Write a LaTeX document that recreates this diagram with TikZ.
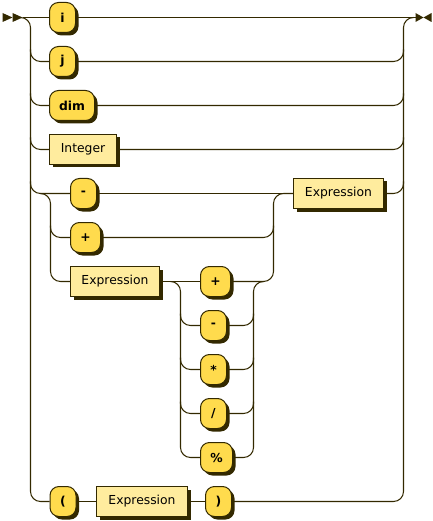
\documentclass[tikz,border=0pt]{standalone}
\usepackage{fontspec}
\setmainfont{DejaVu Sans}
\usetikzlibrary{shadows}
\definecolor{ln}{HTML}{332900}
\definecolor{tfill}{HTML}{FFDB4D}
\definecolor{nfill}{HTML}{FFEC9E}
\tikzset{
  base/.style={draw=ln, line width=1bp, inner sep=0pt, minimum height=30bp,
    font=\fontsize{12.4}{13}\selectfont, text=black,
    drop shadow={shadow xshift=3bp, shadow yshift=-3bp, fill=ln, opacity=1}},
  term/.style={base, fill=tfill, rounded corners=9bp, font=\fontsize{12.4}{13}\selectfont\bfseries},
  nterm/.style={base, fill=nfill},
  wire/.style={draw=ln, line width=1.05bp, rounded corners=10bp},
  endmark/.style={fill=ln, draw=none}
}
\begin{document}
\begin{tikzpicture}[x=1bp, y=-1bp]
\useasboundingbox[fill=white] (-0.5,-0.5) rectangle (432.5,520.5);
% nodes
\node[term, minimum width=26bp] (ti) at (62,17) {i};
\node[term, minimum width=26bp] (tj) at (62,61) {j};
\node[term, minimum width=45bp] (tdim) at (71.5,105) {dim};
\node[nterm, minimum width=67bp] (nint) at (82.5,149) {Integer};
\node[term, minimum width=26bp] (tm1) at (83,193) {-};
\node[term, minimum width=30bp] (tp1) at (85,237) {+};
\node[nterm, minimum width=89bp] (nexA) at (114.5,281) {Expression};
\node[nterm, minimum width=90bp] (nexB) at (338,193) {Expression};
\node[term, minimum width=30bp] (op1) at (215,281) {+};
\node[term, minimum width=26bp] (op2) at (213,325) {-};
\node[term, minimum width=26bp] (op3) at (213,369) {*};
\node[term, minimum width=26bp] (op4) at (213,413) {/};
\node[term, minimum width=32bp] (op5) at (216,457) {\%};
\node[term, minimum width=26bp] (lp) at (62.5,501) {(};
\node[nterm, minimum width=91bp] (nexC) at (141.5,501) {Expression};
\node[term, minimum width=26bp] (rp) at (218,501) {)};
% start / end markers
\coordinate (st) at (22,17);
\coordinate (en) at (415,17);
\coordinate (jB) at (283,193);
\fill[endmark] (2,12.5) -- (12,17) -- (2,21.5) -- cycle;
\fill[endmark] (12,12.5) -- (22,17) -- (12,21.5) -- cycle;
\fill[endmark] (415,12.5) -- (423,17) -- (415,21.5) -- cycle;
\fill[endmark] (431,12.5) -- (423,17) -- (431,21.5) -- cycle;
% main line
\draw[wire] (st) -- (ti.west);
\draw[wire] (ti.east) -- (en);
% left trunk
\draw[wire] (20,17) -- (30,17) -- (30,501) -- (lp.west);
\draw[wire] (30,49) -- (30,61) -- (tj.west);
\draw[wire] (30,93) -- (30,105) -- (tdim.west);
\draw[wire] (30,137) -- (30,149) -- (nint.west);
\draw[wire] (30,181) -- (30,193) -- (tm1.west);
% right trunk
\draw[wire] (rp.east) -- (403,501) -- (403,17) -- (413,17);
\draw[wire] (tj.east) -- (403,61) -- (403,49);
\draw[wire] (tdim.east) -- (403,105) -- (403,93);
\draw[wire] (nint.east) -- (403,149) -- (403,137);
\draw[wire] (nexB.east) -- (403,193) -- (403,181);
% inner choice
\draw[wire] (tm1.east) -- (jB);
\draw[wire] (40,193) -- (50,193) -- (50,281) -- (nexA.west);
\draw[wire] (50,225) -- (50,237) -- (tp1.west);
\draw[wire] (tp1.east) -- (273,237) -- (273,193) -- (nexB.west);
\draw[wire] (op1.east) -- (273,281) -- (273,225);
% operators
\draw[wire] (nexA.east) -- (op1.west);
\draw[wire] (170,281) -- (180,281) -- (180,457) -- (op5.west);
\draw[wire] (180,313) -- (180,325) -- (op2.west);
\draw[wire] (180,357) -- (180,369) -- (op3.west);
\draw[wire] (180,401) -- (180,413) -- (op4.west);
\draw[wire] (op5.east) -- (253,457) -- (253,281) -- (263,281);
\draw[wire] (op2.east) -- (253,325) -- (253,313);
\draw[wire] (op3.east) -- (253,369) -- (253,357);
\draw[wire] (op4.east) -- (253,413) -- (253,401);
% last row
\draw[wire] (lp.east) -- (nexC.west);
\draw[wire] (nexC.east) -- (rp.west);
\end{tikzpicture}
\end{document}
